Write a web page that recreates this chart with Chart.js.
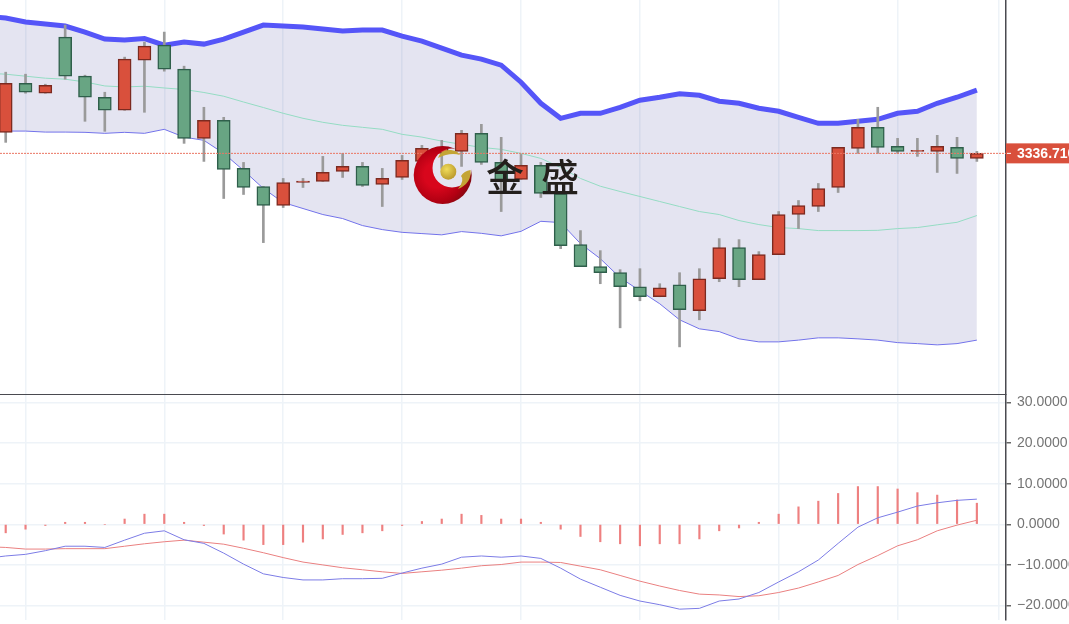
<!DOCTYPE html>
<html>
<head>
  <meta charset="utf-8">
  <title>金盛</title>
  <script src="https://cdn.jsdelivr.net/npm/chart.js"></script>
  <style>
    html, body { margin: 0; padding: 0; background: #fff; overflow: hidden; }
    #wrap { position: relative; width: 1069px; height: 624px; overflow: hidden; filter: blur(0.45px); }
    canvas { position: absolute; left: 0; display: block; }
    #priceChart { top: 0; }
    #macdChart { top: 395px; }
    #logo { position: absolute; left: 0; top: 0; pointer-events: none; }
    #logo text { font-family: "Noto Sans CJK SC", sans-serif; font-size: 38px; font-weight: 500; fill: #231f1c; }
  </style>
</head>
<body>
  <div id="wrap">
    <canvas id="priceChart" width="1069" height="395"></canvas>
    <canvas id="macdChart" width="1069" height="229"></canvas>
    <svg id="logo" width="1069" height="624" viewBox="0 0 1069 624">
      <defs>
        <radialGradient id="redGrad" cx="0.4" cy="0.5" r="0.62">
          <stop offset="0.35" stop-color="#d8061c"/>
          <stop offset="0.75" stop-color="#b00012"/>
          <stop offset="1" stop-color="#7c0a10"/>
        </radialGradient>
        <radialGradient id="goldGrad" cx="0.4" cy="0.35" r="0.7">
          <stop offset="0" stop-color="#f0dc5a"/>
          <stop offset="1" stop-color="#b8962a"/>
        </radialGradient>
        <mask id="moon">
          <rect x="400" y="130" width="90" height="90" fill="#fff"/>
          <circle cx="452" cy="168" r="19.5" fill="#000"/>
        </mask>
      </defs>
      <circle cx="442.7" cy="175" r="29" fill="url(#redGrad)" mask="url(#moon)"/>
      <circle cx="448.3" cy="171.7" r="8" fill="url(#goldGrad)"/>
      <path d="M438 158 Q441 149 451 150 Q458 151 460 155 Q450 152 438 158 Z" fill="#c4a535"/>
      <path d="M470.5 170 Q472 183 458 189 Q465 180 461 176 Q464 171 470.5 170 Z" fill="#c4a535"/>
      <text x="486" y="191">金</text>
      <text x="541" y="191">盛</text>
    </svg>
  </div>

  <script>
    // slot -1 sits just off the left edge, the bands and MACD lines start there
    const slots = [-1, 0, 1, 2, 3, 4, 5, 6, 7, 8, 9, 10, 11, 12, 13, 14, 15, 16, 17, 18, 19, 20, 21, 22, 23, 24,
      25, 26, 27, 28, 29, 30, 31, 32, 33, 34, 35, 36, 37, 38, 39, 40, 41, 42, 43, 44, 45, 46, 47, 48, 49];
    const gridSlots = [1, 8, 14, 20, 26, 32, 39, 45, 50.1];

    const opens = [3345.1, 3364.7, 3360.7, 3383.1, 3367.5, 3359.1, 3353.9, 3373.9, 3379.9, 3370.3,
      3342.7, 3349.9, 3330.7, 3323.5, 3315.9, 3325.1, 3325.5, 3329.5, 3331.5, 3324.3,
      3327.1, 3333.5, 3336.7, 3337.5, 3344.7, 3333.1, 3326.3, 3331.9, 3320.7, 3300.3,
      3291.5, 3289.1, 3283.5, 3279.5, 3284.3, 3273.9, 3286.7, 3299.1, 3286.3, 3296.3,
      3312.3, 3315.5, 3323.1, 3338.7, 3347.1, 3339.5, 3337.5, 3337.5, 3339.1, 3334.7];
    const closes = [3364.7, 3361.1, 3363.9, 3367.5, 3359.1, 3353.9, 3374.3, 3379.5, 3370.3, 3342.7,
      3349.9, 3330.3, 3323.1, 3315.9, 3325.1, 3325.7, 3329.1, 3331.5, 3323.9, 3326.7,
      3333.9, 3338.7, 3339.1, 3344.7, 3333.1, 3325.9, 3331.9, 3320.7, 3299.9, 3291.5,
      3289.1, 3283.5, 3279.5, 3283.1, 3274.3, 3286.7, 3299.1, 3286.3, 3296.3, 3312.3,
      3315.9, 3322.7, 3339.1, 3347.1, 3339.1, 3337.5, 3337.9, 3339.5, 3334.7, 3336.7];
    const highs = [3369.1, 3368.3, 3364.3, 3387.9, 3367.9, 3361.1, 3375.1, 3381.1, 3385.1, 3371.5,
      3355.1, 3351.1, 3333.1, 3323.5, 3326.7, 3326.7, 3335.5, 3336.7, 3333.1, 3330.7,
      3335.9, 3339.9, 3341.9, 3345.9, 3348.3, 3343.1, 3336.3, 3333.1, 3321.5, 3305.9,
      3297.9, 3290.3, 3290.7, 3284.7, 3289.1, 3290.7, 3302.7, 3302.3, 3297.5, 3313.5,
      3317.9, 3324.7, 3339.1, 3350.3, 3355.1, 3342.7, 3342.7, 3343.9, 3343.1, 3337.5];
    const lows = [3341.1, 3360.7, 3360.7, 3366.3, 3349.5, 3345.5, 3353.9, 3353.1, 3369.5, 3340.7,
      3333.5, 3318.7, 3320.3, 3301.1, 3315.1, 3323.1, 3325.5, 3327.1, 3323.5, 3315.5,
      3326.3, 3333.5, 3330.7, 3331.5, 3332.3, 3313.5, 3326.3, 3319.1, 3298.7, 3291.5,
      3284.7, 3267.1, 3277.9, 3279.5, 3259.5, 3270.3, 3285.5, 3283.5, 3286.3, 3296.3,
      3306.7, 3313.5, 3321.1, 3336.7, 3336.7, 3336.7, 3335.5, 3329.1, 3328.7, 3333.5];

    const bollUpper = [3391.5, 3390.7, 3389.1, 3388.3, 3387.5, 3385.1, 3382.3, 3381.9, 3382.5, 3379.9, 3381.1,
      3380.3, 3382.3, 3385.1, 3387.9, 3387.5, 3387.1, 3386.3, 3385.5, 3385.9, 3385.9,
      3383.5, 3381.5, 3378.7, 3375.9, 3374.3, 3371.9, 3365.1, 3356.7, 3350.7, 3352.7,
      3352.7, 3355.1, 3357.9, 3359.1, 3360.5, 3359.9, 3357.5, 3356.7, 3354.7, 3353.5,
      3351.1, 3348.7, 3348.7, 3349.5, 3350.3, 3352.7, 3353.5, 3356.7, 3359.1, 3361.9];
    const bollMiddle = [3368.7, 3368.3, 3367.5, 3366.7, 3366.3, 3365.2, 3363.6, 3363.2, 3363.5, 3362.8, 3362.2,
      3361, 3359.5, 3357.2, 3355, 3352.7, 3350.7, 3349.1, 3347.9, 3347.1, 3346.3,
      3344.3, 3343.2, 3341.6, 3340.3, 3339.1, 3338.3, 3336.7, 3334.7, 3331.1, 3326.7,
      3323.6, 3321.5, 3319.5, 3317.5, 3315.5, 3313.5, 3312.3, 3309.9, 3308.3, 3307.1,
      3306.7, 3305.9, 3305.9, 3305.9, 3306, 3306.7, 3307.1, 3308.2, 3309.2, 3311.9];
    const bollLower = [3345.9, 3345.6, 3345.6, 3345.2, 3345.2, 3345.1, 3344.7, 3345.1, 3344.7, 3346.3, 3343.2,
      3341.9, 3336.7, 3329.9, 3322.7, 3317.1, 3314.7, 3312.3, 3310.7, 3307.9, 3306.3,
      3305.2, 3304.7, 3304.2, 3305.5, 3304.8, 3303.8, 3305.6, 3309.6, 3309.1, 3300.7,
      3294.7, 3287.1, 3281.9, 3276.7, 3270.3, 3266.7, 3265.6, 3262.7, 3261.5, 3261.5,
      3262.2, 3263.1, 3263.1, 3262.7, 3262.2, 3261.2, 3260.8, 3260.3, 3260.8, 3262.2];

    const macdLine = [-8.4, -7.8, -7.4, -6.5, -5.4, -5.4, -5.7, -3.9, -2.2, -1.6, -3.8,
      -4.7, -7.1, -9.8, -12.2, -13.1, -13.7, -13.7, -13.4, -13.4, -13.3,
      -12.0, -10.8, -9.8, -8.1, -7.8, -8.1, -7.8, -8.4, -10.8, -13.5,
      -15.5, -17.5, -18.9, -19.8, -20.9, -20.7, -18.9, -18.4, -16.8, -14.2,
      -11.7, -8.8, -4.7, -0.7, 1.6, 3.0, 4.5, 5.3, 5.9, 6.2];
    const signalLine = [-5.5, -5.7, -6.1, -6.1, -6.0, -6.0, -6.0, -5.4, -4.8, -4.3, -3.9,
      -4.4, -4.9, -5.9, -7.0, -8.2, -9.3, -10.0, -10.7, -11.2, -11.7,
      -12.1, -11.7, -11.3, -10.8, -10.2, -9.9, -9.3, -9.3, -9.4, -10.3,
      -11.2, -12.6, -14, -15.2, -16.3, -17.2, -17.4, -17.8, -17.6, -16.8,
      -15.7, -14.2, -12.6, -9.9, -7.7, -5.3, -3.8, -1.6, -0.2, 1.0];
    const macdHist = [null, -2.1, -1.2, -0.3, 0.5, 0.5, 0, 1.3, 2.5, 2.5, 0.5,
      -0.3, -2.4, -3.9, -5.0, -5.0, -4.4, -3.6, -2.5, -2.1, -1.6,
      -0.3, 0.7, 1.3, 2.5, 2.2, 1.3, 1.3, 0.5, -1.2, -3.0,
      -4.3, -4.8, -5.3, -4.8, -4.8, -3.6, -1.6, -0.9, 0.5, 2.5,
      4.3, 5.7, 7.6, 9.3, 9.3, 8.7, 7.8, 7.2, 6.0, 5.2];
    const macdTicks = [30, 20, 10, 0, -10, -20];

    const lastPrice = 3336.71;
    const xMin = -0.288, xMax = 50.47;

    const isUp = closes.map((c, i) => c >= opens[i]);
    const bodies = [null, ...opens.map((o, i) => [o, closes[i]])];
    const wicks = [null, ...lows.map((l, i) => [l, highs[i]])];
    const upOr = (a, b) => [b, ...isUp.map(u => u ? a : b)];

    const gridColor = '#eef3f8';
    const axisColor = '#4a4a50';

    function xScale(showBorder) {
      return {
        type: 'linear', min: xMin, max: xMax, offset: false,
        afterBuildTicks: s => { s.ticks = gridSlots.map(v => ({ value: v })); },
        ticks: { display: false },
        grid: { color: gridColor, lineWidth: 1.5, drawTicks: false, offset: false },
        border: showBorder ? { color: axisColor, width: 2 } : { display: false }
      };
    }

    // fixed axis strip, labels may not squeeze the plot area
    function fixAxis(s) {
      s.width = 63;
      s.paddingTop = 0;
      s.paddingBottom = 0;
    }

    // price tag on the axis, the label runs off the right edge as in the picture
    const priceTag = {
      id: 'priceTag',
      afterDraw(chart) {
        const c = chart.ctx, y = chart.scales.y.getPixelForValue(lastPrice), x = chart.chartArea.right;
        c.save();
        c.fillStyle = '#d9503c';
        c.fillRect(x, y - 10, 70, 20);
        c.fillStyle = '#fff';
        c.fillRect(x + 1, y - 0.5, 4, 1);
        c.font = 'bold 14px "Liberation Sans"';
        c.textBaseline = 'middle';
        c.fillText(lastPrice.toFixed(3), x + 11, y + 0.5);
        c.restore();
      }
    };

    new Chart(document.getElementById('priceChart'), {
      type: 'bar',
      data: {
        labels: slots,
        datasets: [
          { type: 'line', data: [{ x: xMin, y: lastPrice }, { x: xMax, y: lastPrice }],
            borderColor: '#ea7563', borderWidth: 1, borderDash: [2, 1], pointRadius: 0, fill: false },
          { data: bodies, grouped: false, barThickness: 13, borderSkipped: false, borderWidth: 1.5,
            backgroundColor: upOr('#d9503c', '#68a583'), borderColor: upOr('#7c2a20', '#2f5f4b') },
          { data: wicks, grouped: false, barThickness: 2, backgroundColor: '#9a9a9a', borderWidth: 0 },
          { type: 'line', data: bollMiddle, borderColor: '#94dcc3', borderWidth: 1, pointRadius: 0, tension: 0, fill: false },
          { type: 'line', data: bollLower, borderColor: '#7272ea', borderWidth: 1, pointRadius: 0, tension: 0, fill: false },
          { type: 'line', data: bollUpper, borderColor: '#5555f8', borderWidth: 5, pointRadius: 0, tension: 0,
            fill: '-1', backgroundColor: 'rgba(90, 90, 170, 0.164)' }
        ]
      },
      plugins: [priceTag],
      options: {
        responsive: false,
        animation: false,
        events: [],
        layout: { padding: 0 },
        plugins: { legend: { display: false }, tooltip: { enabled: false } },
        scales: {
          x: xScale(true),
          y: {
            position: 'right', min: 3240.3, max: 3397.9,
            afterFit: fixAxis,
            ticks: { display: false },
            grid: { display: false },
            border: { color: axisColor, width: 1.5 }
          }
        }
      }
    });

    new Chart(document.getElementById('macdChart'), {
      type: 'bar',
      data: {
        labels: slots,
        datasets: [
          { type: 'line', data: macdLine, borderColor: '#7c7ce6', borderWidth: 1, pointRadius: 0, tension: 0, fill: false },
          { type: 'line', data: signalLine, borderColor: '#ea8080', borderWidth: 1, pointRadius: 0, tension: 0, fill: false },
          { data: macdHist, barThickness: 1.5, backgroundColor: '#ee8080', borderWidth: 0 }
        ]
      },
      options: {
        responsive: false,
        animation: false,
        events: [],
        layout: { padding: { bottom: 4 } },
        plugins: { legend: { display: false }, tooltip: { enabled: false } },
        scales: {
          x: xScale(false),
          y: {
            position: 'right', min: -23.57, max: 31.85,
            afterFit: fixAxis,
            afterBuildTicks: s => { s.ticks = macdTicks.map(v => ({ value: v })); },
            ticks: {
              color: '#747474', padding: 6, font: { family: '"Liberation Sans"', size: 14 },
              callback: v => (v < 0 ? '\u2212' : '') + Math.abs(v).toFixed(4)
            },
            grid: { color: gridColor, lineWidth: 1.5, tickLength: 5, tickColor: '#666' },
            border: { color: axisColor, width: 1.5 }
          }
        }
      }
    });
  </script>
</body>
</html>
